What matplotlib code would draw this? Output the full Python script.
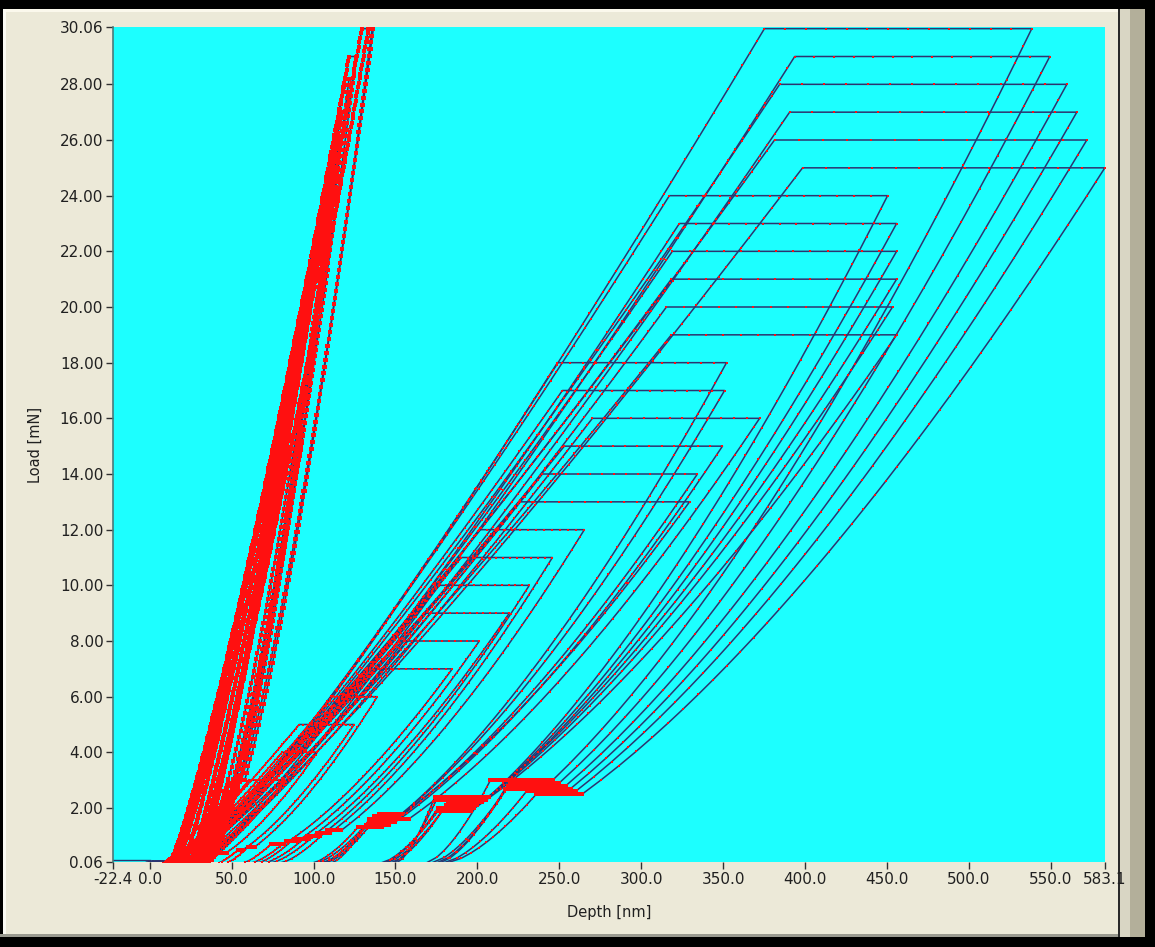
import numpy as np
import matplotlib.pyplot as plt
from matplotlib.patches import Rectangle

# hard-phase indents (steep bundle on the left)
s_pmax = [30.0, 30.0, 29.0, 28.2, 27.0, 26.1, 25.2, 24.0]
s_h0 = [16.0, 26.0, 12.0, 20.0, 28.0, 14.0, 24.0, 30.0]
s_hp = [129.6, 133.5, 121.7, 119.3, 117.0, 113.8, 111.5, 109.5]
s_hh = [135.8, 136.5, 126.0, 121.7, 119.2, 115.7, 113.4, 111.2]
s_hd = [58.0, 56.0, 52.0, 50.0, 54.0, 46.0, 50.0, 52.0]
s_drift = [-4.0, -3.0, -4.0, -3.0, -4.0, -3.0, -3.0, -4.0]
s_hf = [36.0, 34.0, 30.0, 28.0, 32.0, 24.0, 28.0, 32.0]

# soft-phase indents, max load 2 .. 30 mN
pmax = [2, 3, 4, 5, 6,
        7, 8, 9, 10, 11, 12,
        13, 14, 15, 16, 17, 18,
        19, 20, 21, 22, 23, 24,
        25, 26, 27, 28, 29, 30]
h0 = [8, 12, 14, 10, 16,
      12, 18, 10, 20, 15, 22,
      18, 25, 14, 30, 20, 26,
      20, 28, 16, 24, 30, 22,
      26, 14, 30, 20, 34, 24]
h_peak = [39.3, 60.7, 80.8, 91.2, 111.2,
          132.2, 152.3, 167.6, 176.8, 190.2, 201.2,
          225.6, 239.7, 253.1, 270.2, 251.9, 248.9,
          318.4, 315.4, 318.4, 319.0, 323.3, 317.2,
          398.5, 381.4, 390.6, 384.5, 393.7, 375.2]
h_hold = [57.6, 82.1, 102.2, 124.8, 138.9,
          184.7, 201.2, 219.5, 231.7, 245.8, 265.3,
          329.5, 334.3, 349.6, 372.3, 350.9, 352.1,
          455.9, 453.4, 455.9, 455.9, 455.9, 450.4,
          583.0, 572.0, 565.9, 559.8, 549.4, 538.4]
h_ten = [28, 38, 47, 57, 64,
         82, 90, 97, 104, 110, 117,
         142, 146, 150, 158, 152, 154,
         196, 198, 200, 203, 205, 207,
         264, 260, 257, 254, 250, 246]
drift = [-3, -3, -4, -3, -4,
         -8, -7, -9, -8, -8, -9,
         -15, -14, -16, -24, -15, -14,
         -20, -22, -19, -21, -30, -33,
         -28, -30, -40, -35, -30, -38]
h_final = [19, 26, 32, 40, 45,
           55, 60, 64, 68, 72, 78,
           98, 100, 104, 110, 104, 106,
           140, 142, 143, 146, 148, 150,
           180, 178, 176, 174, 171, 168]

LINE_C = '#2b3570'
DOT_C = '#ff1010'


def indent_path(P, a, hp, hh, hd, dd, hf, m, npts, crowd):
    """load - hold - unload to 10% - drift hold - unload, one (h, P) pair per segment"""
    nl, nh, nu, nd, nf = npts
    # samples come in faster at low load
    u = np.linspace(0, 1, nl) ** crowd
    h_load = a + (hp - a) * u ** (1.0 / m)
    p_load = P * u
    h_h = np.linspace(hp, hh, nh)
    p_h = np.full(nh, P)
    k = 0.1 ** (2.0 / 3.0)
    hr = (hd - k * hh) / (1 - k)
    u = np.linspace(1, 0.1, nu)
    h_u = hr + (hh - hr) * u ** (2.0 / 3.0)
    p_u = P * u
    he = hd + dd
    h_d = np.linspace(hd, he, nd)
    p_d = np.full(nd, 0.1 * P)
    u = np.linspace(1, 0, nf)
    h_f = hf + (he - hf) * u ** (2.0 / 3.0)
    p_f = 0.1 * P * u
    return [(h_load, p_load), (h_h, p_h), (h_u, p_u), (h_d, p_d), (h_f, p_f)]


fig = plt.figure(figsize=(11.55, 9.47), dpi=100, facecolor='#ECE9D8')
ax = fig.add_axes([113 / 1155, 1 - 862 / 947, 992 / 1155, 835 / 947])
ax.set_facecolor('#1CFFFF')


def draw(parts, start, sizes):
    h = np.concatenate([[start]] + [x for x, _ in parts])
    p = np.concatenate([[0.1]] + [y for _, y in parts])
    ax.plot(h, p, color=LINE_C, lw=1.1, zorder=2)
    for (hx, px), ms in zip(parts, sizes):
        if ms:
            ax.plot(hx, px, 's', ms=ms, mew=0, color=DOT_C, zorder=3)


# soft phase
for i in range(len(pmax)):
    parts = indent_path(pmax[i], h0[i], h_peak[i], h_hold[i], h_ten[i],
                        drift[i], h_final[i], 1.15, (110, 14, 45, 30, 14), 1.6)
    draw(parts, h0[i] - 10, [1.9, 1.6, 1.9, 2.2, 1.9])

# hard phase
for i in range(len(s_pmax)):
    parts = indent_path(s_pmax[i], s_h0[i], s_hp[i], s_hh[i], s_hd[i],
                        s_drift[i], s_hf[i], 1.2, (240, 8, 110, 40, 25), 1.3)
    draw(parts, s_h0[i] - 10, [3.0, 0, 2.6, 2.6, 2.6])

# approach line along the surface
ax.plot([-22.4, 0.0], [0.12, 0.12], color=LINE_C, lw=1.0, zorder=2)

ax.set_xlim(-22.4, 583.1)
ax.set_ylim(0.06, 30.06)

xt = [-22.4, 0, 50, 100, 150, 200, 250, 300, 350, 400, 450, 500, 550, 583.1]
ax.set_xticks(xt)
ax.set_xticklabels(['%.1f' % v for v in xt])
yt = [0.06] + list(range(2, 30, 2)) + [30.06]
ax.set_yticks(yt)
ax.set_yticklabels(['%.2f' % v for v in yt])
ax.tick_params(direction='out', length=5, width=1, color='#303030',
               labelsize=11, labelcolor='#202020', pad=2)

for side in ['top', 'right', 'bottom']:
    ax.spines[side].set_visible(False)
ax.spines['left'].set_color('#4a7a7a')
ax.spines['left'].set_linewidth(1.2)

fig.text(609 / 1155, 1 - 912 / 947, 'Depth [nm]', ha='center', va='center',
         fontsize=10.5, color='#202020')
fig.text(35 / 1155, 1 - 445 / 947, 'Load [mN]', ha='center', va='center',
         rotation=90, fontsize=10.5, color='#202020')

# window frame
H, W = 947.0, 1155.0
frame = [
    ((0, 1 - 9 / H), 1, 9 / H, 'black'),
    ((0, 1 - 12 / H), 1, 3 / H, '#FBF8EC'),
    ((0, 0), 3 / W, 1, 'black'),
    ((3 / W, 0), 3 / W, 1 - 9 / H, '#FBFAF3'),
    ((1118 / W, 0), 2 / W, 1 - 9 / H, '#2a2a2a'),
    ((1120 / W, 0), 10 / W, 1 - 9 / H, '#D9D6C4'),
    ((1130 / W, 0), 15 / W, 1 - 9 / H, '#B3AF9A'),
    ((1145 / W, 0), 10 / W, 1, 'black'),
    ((0, 10 / H), 1118 / W, 3 / H, '#9a9a90'),
    ((0, 0), 1, 10 / H, 'black'),
]
for xy, w, hgt, c in frame:
    fig.add_artist(Rectangle(xy, w, hgt, transform=fig.transFigure,
                             facecolor=c, edgecolor='none', zorder=0))

fig.savefig('out.png', dpi=100, facecolor=fig.get_facecolor())
